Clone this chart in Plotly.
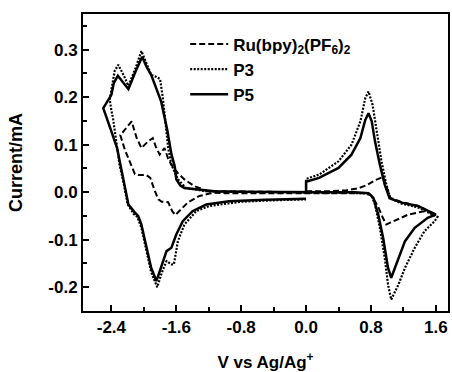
import plotly.graph_objects as go

# ---- data (potential V vs Ag/Ag+, current mA) ----
p5_v = [0.00, 0.00, 0.16, 0.40, 0.56, 0.67, 0.73, 0.77, 0.81, 0.85, 0.91, 0.97, 1.03, 1.18, 1.38, 1.60,
        1.50, 1.34, 1.22, 1.14, 1.08, 1.05, 1.01, 0.95, 0.89, 0.83, 0.77, 0.60, 0.30, 0.00,
        -0.40, -0.80, -1.13, -1.34, -1.50, -1.55, -1.60, -1.62, -1.66, -1.71, -1.785, -1.85, -1.91, -1.97, -2.02,
        -2.10, -2.19, -2.26, -2.32, -2.37, -2.40, -2.50, -2.46, -2.40, -2.33, -2.27, -2.19, -2.11, -2.07,
        -2.03, -1.97, -1.91, -1.845, -1.78, -1.72, -1.66, -1.60, -1.52, -1.40, -1.23, -0.95, -0.50, 0.00]
p5_i = [0.000, 0.022, 0.030, 0.051, 0.079, 0.114, 0.152, 0.166, 0.149, 0.107, 0.058, 0.016, -0.013, -0.022, -0.029, -0.047,
        -0.054, -0.075, -0.103, -0.138, -0.166, -0.180, -0.159, -0.096, -0.047, -0.012, -0.002, 0.000, 0.000, 0.000,
        0.001, 0.001, 0.002, 0.006, 0.009, 0.014, 0.027, 0.055, 0.080, 0.130, 0.190, 0.220, 0.247, 0.265, 0.285,
        0.255, 0.217, 0.232, 0.245, 0.230, 0.205, 0.177, 0.156, 0.128, 0.093, 0.040, -0.026, -0.043, -0.050,
        -0.068, -0.117, -0.159, -0.187, -0.152, -0.124, -0.117, -0.089, -0.061, -0.040, -0.026, -0.019, -0.016, -0.014]

p3_v = [0.00, 0.00, 0.16, 0.40, 0.56, 0.67, 0.73, 0.77, 0.82, 0.87, 0.93, 0.99, 1.04, 1.18, 1.38, 1.62,
        1.585, 1.46, 1.34, 1.22, 1.14, 1.05, 1.01, 0.97, 0.91, 0.85, 0.81, 0.77, 0.40, 0.00,
        -0.50, -1.00, -1.23, -1.48, -1.58, -1.66, -1.70, -1.73, -1.765, -1.80, -1.85, -1.91, -1.97, -2.03,
        -2.10, -2.19, -2.26, -2.315, -2.36, -2.40, -2.42, -2.40, -2.38, -2.34, -2.30, -2.25, -2.20, -2.13, -2.08,
        -2.03, -1.97, -1.91, -1.835, -1.78, -1.72, -1.66, -1.63, -1.58, -1.50, -1.355, -1.19, -0.80, -0.40, 0.00]
p3_i = [0.000, 0.028, 0.037, 0.065, 0.100, 0.149, 0.198, 0.212, 0.184, 0.128, 0.065, 0.016, -0.013, -0.024, -0.032, -0.052,
        -0.061, -0.082, -0.117, -0.159, -0.194, -0.226, -0.194, -0.138, -0.075, -0.026, -0.008, -0.002, -0.001, -0.001,
        0.000, 0.001, 0.002, 0.009, 0.027, 0.058, 0.093, 0.142, 0.198, 0.238, 0.243, 0.247, 0.272, 0.297,
        0.262, 0.224, 0.250, 0.268, 0.255, 0.220, 0.195, 0.172, 0.156, 0.107, 0.058, 0.020, -0.025, -0.045, -0.052,
        -0.075, -0.125, -0.168, -0.200, -0.170, -0.145, -0.152, -0.152, -0.103, -0.068, -0.040, -0.029, -0.020, -0.017, -0.015]

ru_v = [0.00, 0.30, 0.50, 0.64, 0.75, 0.86, 0.95, 1.00, 1.04, 1.18, 1.38, 1.60,
        1.46, 1.26, 1.15, 1.05, 0.99, 0.95, 0.90, 0.85, 0.80, 0.70, 0.40, 0.00,
        -0.50, -1.00, -1.15, -1.315, -1.46, -1.56, -1.61, -1.65, -1.68, -1.70, -1.78, -1.82, -1.87, -1.92,
        -1.97, -2.07, -2.11, -2.17, -2.235, -2.29, -2.22, -2.15, -2.09, -2.03, -1.96, -1.89, -1.85, -1.805,
        -1.745, -1.70, -1.66, -1.58, -1.50, -1.38, -1.21, -0.80, -0.40, 0.00]
ru_i = [0.002, 0.002, 0.004, 0.008, 0.015, 0.026, 0.032, 0.008, -0.012, -0.021, -0.029, -0.047,
        -0.040, -0.047, -0.055, -0.064, -0.068, -0.055, -0.035, -0.019, -0.006, -0.002, -0.002, -0.002,
        -0.003, -0.002, -0.001, -0.008, -0.022, -0.040, -0.048, -0.040, -0.030, -0.021, -0.020, -0.015, 0.005, 0.030,
        0.036, 0.036, 0.038, 0.065, 0.090, 0.120, 0.135, 0.149, 0.115, 0.093, 0.105, 0.114, 0.095, 0.079,
        0.093, 0.070, 0.058, 0.040, 0.027, 0.013, 0.002, 0.001, 0.000, 0.000]

x_tick_vals = [-2.4, -1.6, -0.8, 0.0, 0.8, 1.6]
x_tick_text = ["-2.4", "-1.6", "-0.8", "0.0", "0.8", "1.6"]
y_tick_vals = [-0.2, -0.1, 0.0, 0.1, 0.2, 0.3]
y_tick_text = ["-0.2", "-0.1", "0.0", "0.1", "0.2", "0.3"]

FONT = "Liberation Sans, Arial, sans-serif"

fig = go.Figure()
fig.add_trace(go.Scatter(x=ru_v, y=ru_i, mode="lines",
                         name="Ru(bpy)<sub>2</sub>(PF<sub>6</sub>)<sub>2</sub>",
                         line=dict(color="black", width=2, dash="6px,3px")))
fig.add_trace(go.Scatter(x=p3_v, y=p3_i, mode="lines", name="P3",
                         line=dict(color="black", width=2.2, dash="2px,1.5px")))
fig.add_trace(go.Scatter(x=p5_v, y=p5_i, mode="lines", name="P5",
                         line=dict(color="black", width=2.5)))

axis_common = dict(showline=True, linewidth=2, linecolor="black", mirror=True,
                   ticks="inside", ticklen=6, tickwidth=2, tickcolor="black",
                   showgrid=False, zeroline=False,
                   tickfont=dict(family=FONT, size=17, color="black", weight="bold"))

fig.update_xaxes(range=[-2.75, 1.75], tickvals=x_tick_vals, ticktext=x_tick_text,
                 minor=dict(ticks="inside", ticklen=4, tickwidth=2, tickcolor="black", dtick=0.4, tick0=0.0),
                 title=dict(text="V vs Ag/Ag<sup>+</sup>", standoff=20,
                            font=dict(family=FONT, size=17, color="black", weight="bold")),
                 **axis_common)
fig.update_yaxes(range=[-0.25, 0.375], tickvals=y_tick_vals, ticktext=y_tick_text,
                 minor=dict(ticks="inside", ticklen=4, tickwidth=2, tickcolor="black", dtick=0.05, tick0=0.0),
                 title=dict(text="Current/mA", standoff=21,
                            font=dict(family=FONT, size=18, color="black", weight="bold")),
                 **axis_common)

fig.update_layout(
    width=452, height=372,
    margin=dict(l=83, r=2, t=14, b=61),
    paper_bgcolor="white", plot_bgcolor="white",
    showlegend=True,
    legend=dict(x=0.28, y=0.958, xanchor="left", yanchor="top",
                bgcolor="rgba(0,0,0,0)", borderwidth=0, itemwidth=38,
                font=dict(family=FONT, size=17, color="black", weight="bold")),
)

fig.write_html("out.html")
